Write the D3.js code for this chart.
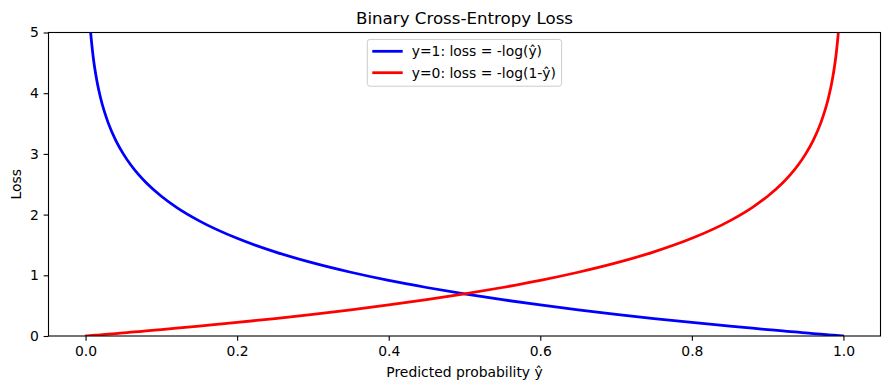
<!DOCTYPE html>
<html><head><meta charset="utf-8">
<script src="https://cdn.jsdelivr.net/npm/d3@7"></script>
<style>body{margin:0;background:#fff;}svg{display:block;font-family:"DejaVu Sans",sans-serif;}</style>
</head><body>
<svg id="chart" width="889" height="390"></svg>
<script>
const probs = [0.001,0.002,0.003,0.005,0.0067,0.01,0.015,0.02,0.03,0.04,0.05,0.06,0.07,0.08,0.1,0.12,0.15,0.2,0.25,0.3,0.35,0.4,0.45,0.5,0.55,0.6,0.65,0.7,0.75,0.8,0.85,0.88,0.9,0.92,0.93,0.94,0.95,0.96,0.97,0.98,0.985,0.99,0.9933,0.995,0.997,0.998,0.999];
const lossY1 = [6.908,6.215,5.809,5.298,5.006,4.605,4.200,3.912,3.507,3.219,2.996,2.813,2.659,2.526,2.303,2.120,1.897,1.609,1.386,1.204,1.050,0.916,0.799,0.693,0.598,0.511,0.431,0.357,0.288,0.223,0.163,0.128,0.105,0.083,0.073,0.062,0.051,0.041,0.030,0.020,0.015,0.010,0.0067,0.005,0.003,0.002,0.001];
const lossY0 = [0.001,0.002,0.003,0.005,0.0067,0.010,0.015,0.020,0.030,0.041,0.051,0.062,0.073,0.083,0.105,0.128,0.163,0.223,0.288,0.357,0.431,0.511,0.598,0.693,0.799,0.916,1.050,1.204,1.386,1.609,1.897,2.120,2.303,2.526,2.659,2.813,2.996,3.219,3.507,3.912,4.200,4.605,5.006,5.298,5.809,6.215,6.908];
const seriesNames = ["y=1: loss = -log(ŷ)","y=0: loss = -log(1-ŷ)"];
const seriesColors = ["#0000ff","#ff0000"];
const xTicks = [0.0,0.2,0.4,0.6,0.8,1.0];
const yTicks = [0,1,2,3,4,5];
const titleText = "Binary Cross-Entropy Loss";
const xLabel = "Predicted probability ŷ";
const yLabel = "Loss";

const L = 48.5, R = 880.5, T = 32.5, B = 336;
const svg = d3.select("#chart");
const pad = 0.05*(0.999-0.001);
const x = d3.scaleLinear().domain([0.001-pad, 0.999+pad]).range([L, R]);
const y = d3.scaleLinear().domain([0,5]).range([B, T]);

svg.append("defs").append("clipPath").attr("id","clip")
  .append("rect").attr("x",L).attr("y",T).attr("width",R-L).attr("height",B-T);

const series = [lossY1, lossY0];
const line = d3.line().x(d=>x(d[0])).y(d=>y(d[1])).curve(d3.curveMonotoneX);
const g = svg.append("g").attr("clip-path","url(#clip)");
series.forEach((vals,i)=>{
  g.append("path").datum(probs.map((p,j)=>[p,vals[j]]))
   .attr("d",line).attr("fill","none").attr("stroke",seriesColors[i])
   .attr("stroke-width",2.78).attr("stroke-linejoin","round").attr("stroke-linecap","square");
});

const xAxis = svg.append("g").attr("transform",`translate(0,${B})`)
  .call(d3.axisBottom(x).tickValues(xTicks).tickFormat(d3.format(".1f")).tickSize(4.86).tickPadding(4.86));
const yAxis = svg.append("g").attr("transform",`translate(${L},0)`)
  .call(d3.axisLeft(y).tickValues(yTicks).tickFormat(d3.format("d")).tickSize(4.86).tickPadding(4.86));
[xAxis,yAxis].forEach(a=>{
  a.select(".domain").remove();
  a.selectAll(".tick line").attr("stroke","#000").attr("stroke-width",1.1);
  a.selectAll(".tick text").attr("fill","#000").style("font-size","13.9px").style("font-family","DejaVu Sans");
});

svg.append("rect").attr("x",L).attr("y",T).attr("width",R-L).attr("height",B-T)
  .attr("fill","none").attr("stroke","#000").attr("stroke-width",1.1);

svg.append("text").attr("x",(L+R)/2).attr("y",24).attr("text-anchor","middle")
  .style("font-size","16.67px").attr("fill","#000").text(titleText);
svg.append("text").attr("x",(L+R)/2).attr("y",377).attr("text-anchor","middle")
  .style("font-size","13.9px").attr("fill","#000").text(xLabel);
svg.append("text").attr("transform",`translate(21,${(T+B)/2}) rotate(-90)`).attr("text-anchor","middle")
  .style("font-size","13.9px").attr("fill","#000").text(yLabel);

const lg = svg.append("g");
lg.append("rect").attr("x",367.3).attr("y",39.4).attr("width",194.3).attr("height",46.8)
  .attr("rx",2.8).attr("fill","#fff").attr("fill-opacity",0.8).attr("stroke","#cccccc").attr("stroke-width",1);
seriesNames.forEach((n,i)=>{
  const yy = 51.3 + i*21.4;
  lg.append("line").attr("x1",372.3).attr("x2",402.7).attr("y1",yy).attr("y2",yy)
    .attr("stroke",seriesColors[i]).attr("stroke-width",2.78);
  lg.append("text").attr("x",411.7).attr("y",yy).attr("dy","0.36em")
    .style("font-size","13.9px").attr("fill","#000").text(n);
});
</script>
</body></html>
